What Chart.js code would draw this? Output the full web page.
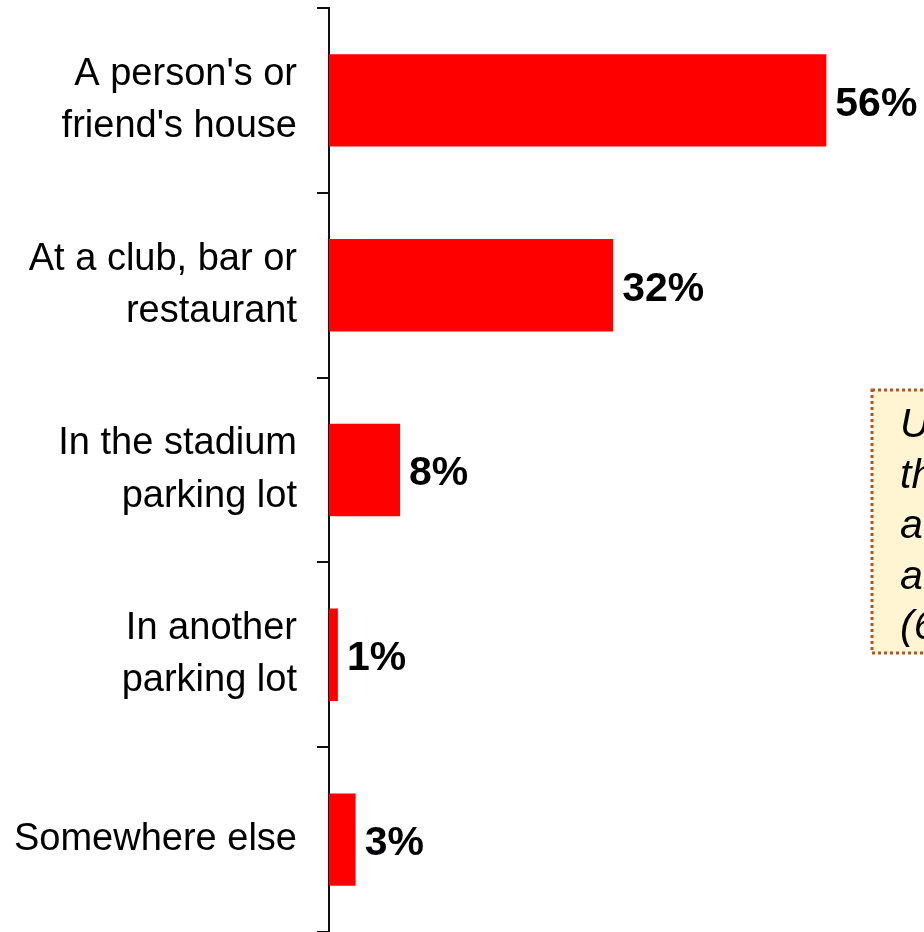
<!DOCTYPE html>
<html>
<head>
<meta charset="utf-8">
<title>Where did you drink</title>
<script src="https://cdn.jsdelivr.net/npm/chart.js@4"></script>
<style>
  html, body { margin: 0; padding: 0; background: #fff; overflow: hidden; }
  #wrap { position: relative; width: 924px; height: 932px; }
</style>
</head>
<body>
<div id="wrap">
  <canvas id="placeChart" width="924" height="932"></canvas>
</div>
<script>
// Categories and percentages
const places = [
  ["A person's or", "friend's house"],
  ["At a club, bar or", "restaurant"],
  ["In the stadium", "parking lot"],
  ["In another", "parking lot"],
  ["Somewhere else"]
];
const percents = [56, 32, 8, 1, 3];

// Side note text (runs off the right edge)
const noteLines = ["Unlike those", "the majority", "at a game,", "a smaller share", "(6%) ..."];

const FONT = '"Liberation Sans", Arial, sans-serif';

// Writes "NN%" just past the end of each bar
const valueLabels = {
  id: 'valueLabels',
  afterDatasetsDraw(chart) {
    const ctx = chart.ctx;
    const meta = chart.getDatasetMeta(0);
    ctx.save();
    ctx.font = 'bold 41px ' + FONT;
    ctx.fillStyle = '#000';
    ctx.textAlign = 'left';
    ctx.textBaseline = 'middle';
    meta.data.forEach((bar, i) => {
      ctx.fillText(percents[i] + '%', bar.x + 9, bar.y + 4);
    });
    ctx.restore();
  }
};

// Yellow note box with dotted border
const noteBox = {
  id: 'noteBox',
  afterDraw(chart) {
    const ctx = chart.ctx;
    const x = 872, y = 390, w = 200, h = 263;
    ctx.save();
    ctx.fillStyle = '#FFF5D3';
    ctx.fillRect(x, y, w, h);
    ctx.strokeStyle = '#B5561F';
    ctx.lineWidth = 3;
    ctx.setLineDash([3, 3]);
    ctx.strokeRect(x, y, w, h);
    ctx.setLineDash([]);
    ctx.font = 'italic 41px ' + FONT;
    ctx.fillStyle = '#000';
    ctx.textAlign = 'left';
    ctx.textBaseline = 'alphabetic';
    noteLines.forEach((line, i) => {
      ctx.fillText(line, 900, 437 + i * 50.5);
    });
    ctx.restore();
  }
};

new Chart(document.getElementById('placeChart'), {
  type: 'bar',
  data: {
    labels: places,
    datasets: [{
      data: percents,
      backgroundColor: '#FF0000',
      borderWidth: 0,
      barPercentage: 0.5,
      categoryPercentage: 1
    }]
  },
  options: {
    indexAxis: 'y',
    responsive: false,
    devicePixelRatio: 1,
    animation: false,
    layout: { padding: { top: 8, right: 0, bottom: 0, left: 0 } },
    plugins: {
      legend: { display: false },
      tooltip: { enabled: false }
    },
    scales: {
      x: {
        display: false,
        min: 0,
        max: 67
      },
      y: {
        afterFit(scale) {
          scale.width = 329;
          // let the axis run the full height
          scale.paddingTop = 0;
          scale.paddingBottom = 0;
        },
        grid: {
          offset: true,
          drawOnChartArea: false,
          drawTicks: true,
          tickLength: 12,
          color: '#111',
          lineWidth: 2
        },
        border: { display: true, color: '#111', width: 2 },
        ticks: {
          padding: 20,
          color: '#000',
          font: { family: FONT, size: 38, lineHeight: 1.37 }
        }
      }
    }
  },
  plugins: [valueLabels, noteBox]
});
</script>
</body>
</html>
